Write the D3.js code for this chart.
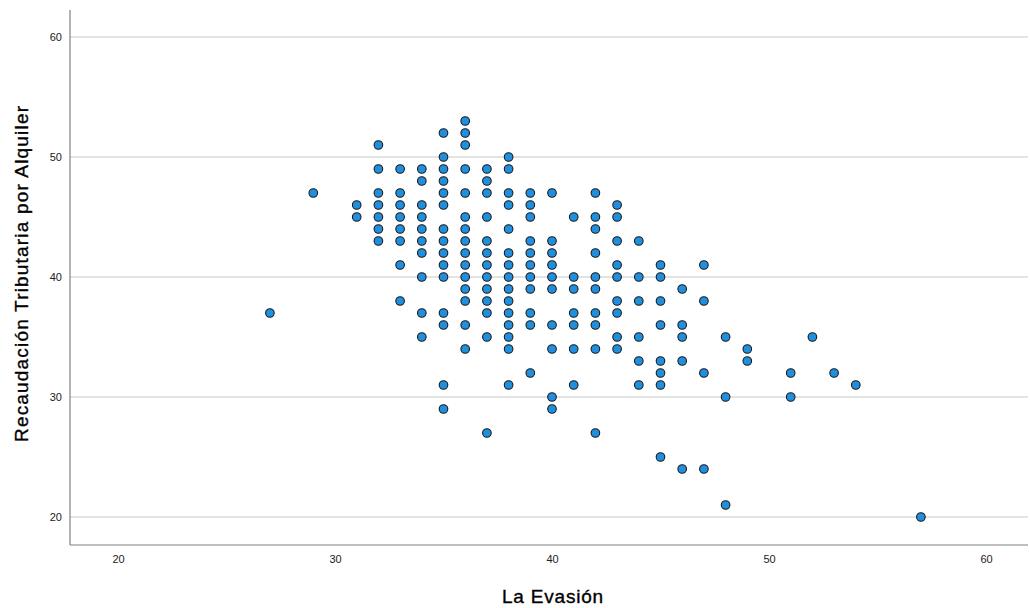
<!DOCTYPE html>
<html><head><meta charset="utf-8">
<script src="https://cdn.jsdelivr.net/npm/d3@7"></script>
<style>html,body{margin:0;padding:0;background:#fff}svg{display:block}</style>
</head><body>
<svg id="c" width="1030" height="608"></svg>
<script>
// Data: each entry = [La Evasión, list of Recaudación values]
const evasion = [27,29,31,32,33,34,35,36,37,38,39,40,41,42,43,44,45,46,47,48,49,51,52,53,54,57];
const recaudacion = [
  [37],
  [47],
  [46,45],
  [51,49,47,46,45,44,43],
  [49,47,46,45,44,43,41,38],
  [49,48,46,45,44,43,42,40,37,35],
  [52,50,49,48,47,46,44,43,42,41,40,37,36,31,29],
  [53,52,51,49,47,45,44,43,42,41,40,39,38,36,34],
  [49,48,47,45,43,42,41,40,39,38,37,35,27],
  [50,49,47,46,44,42,41,40,39,38,37,36,35,34,31],
  [47,46,45,43,42,41,40,39,37,36,32],
  [47,43,42,41,40,39,36,34,30,29],
  [45,40,39,37,36,34,31],
  [47,45,44,42,40,39,37,36,34,27],
  [46,45,43,41,40,38,37,35,34],
  [43,40,38,35,33,31],
  [41,40,38,36,33,32,31,25],
  [39,36,35,33,24],
  [41,38,32,24],
  [35,30,21],
  [34,33],
  [32,30],
  [35],
  [32],
  [31],
  [20]
];
const xTicks = [20,30,40,50,60];
const yTicks = [20,30,40,50,60];
const xTitle = "La Evasión";
const yTitle = "Recaudación Tributaria por Alquiler";

const points = [];
evasion.forEach((e,i)=>recaudacion[i].forEach(r=>points.push({x:e,y:r})));

const svg = d3.select("#c");
const x = d3.scaleLinear().domain([20,60]).range([118,986]);
const y = d3.scaleLinear().domain([20,60]).range([517,37]);
const pLeft = 70, pRight = 1028, pTop = 10, pBottom = 545;
const font = "'Liberation Sans', Arial, sans-serif";

// gridlines
svg.append("g").selectAll("line").data(yTicks).join("line")
  .attr("x1",pLeft).attr("x2",pRight)
  .attr("y1",d=>y(d)).attr("y2",d=>y(d))
  .attr("stroke","#c8c8c8").attr("stroke-width",1.2);

// y axis
const yAxis = svg.append("g").attr("transform",`translate(${pLeft},0)`)
  .call(d3.axisLeft(y).tickValues(yTicks).tickSize(0).tickPadding(8));
yAxis.select(".domain").remove();
yAxis.selectAll("text").attr("font-family",font).attr("font-size",11).attr("fill","#222");

// x axis
const xAxis = svg.append("g").attr("transform",`translate(0,${pBottom})`)
  .call(d3.axisBottom(x).tickValues(xTicks).tickSize(0).tickPadding(10));
xAxis.select(".domain").remove();
xAxis.selectAll("text").attr("font-family",font).attr("font-size",11).attr("fill","#222");

// axis lines
svg.append("line").attr("x1",pLeft).attr("x2",pLeft).attr("y1",pTop).attr("y2",pBottom)
  .attr("stroke","#808080").attr("stroke-width",1.2);
svg.append("line").attr("x1",pLeft).attr("x2",pRight).attr("y1",pBottom).attr("y2",pBottom)
  .attr("stroke","#808080").attr("stroke-width",1.2);

// points
svg.append("g").selectAll("circle").data(points).join("circle")
  .attr("cx",d=>x(d.x)).attr("cy",d=>y(d.y)).attr("r",4.3)
  .attr("fill","#1f8fe0").attr("stroke","#1a1a1a").attr("stroke-width",1.1);

// titles
svg.append("text").attr("x",553).attr("y",603).attr("text-anchor","middle")
  .attr("font-family",font).attr("font-size",19).attr("letter-spacing",0.8)
  .attr("fill","#000").attr("stroke","#000").attr("stroke-width",0.35).text(xTitle);
svg.append("text").attr("transform","translate(27.5,274) rotate(-90)").attr("text-anchor","middle")
  .attr("font-family",font).attr("font-size",19)
  .attr("textLength",336).attr("lengthAdjust","spacing")
  .attr("fill","#000").attr("stroke","#000").attr("stroke-width",0.35).text(yTitle);
</script>
</body></html>
